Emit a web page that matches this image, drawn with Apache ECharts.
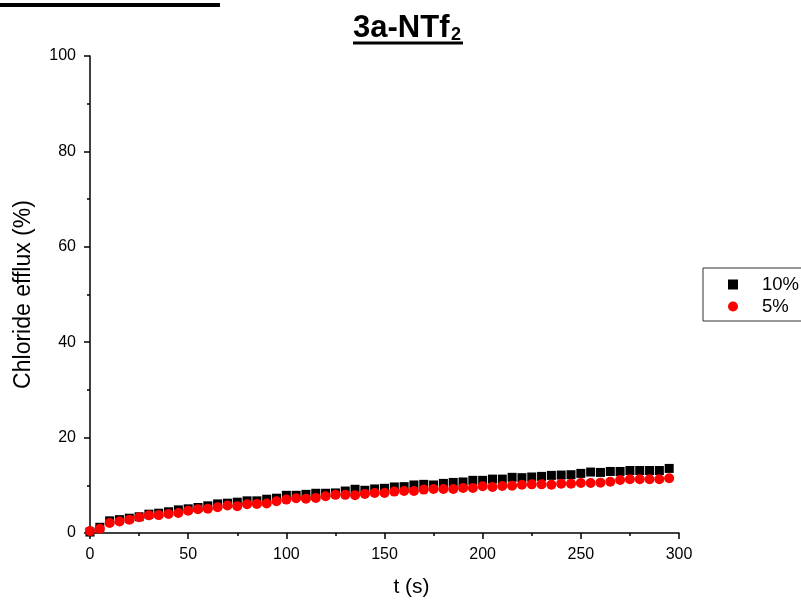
<!DOCTYPE html>
<html>
<head>
<meta charset="utf-8">
<script src="https://cdn.jsdelivr.net/npm/echarts@6/dist/echarts.min.js"></script>
<style>html,body{margin:0;padding:0;background:#fff;overflow:hidden}#c{width:801px;height:603px}</style>
</head>
<body>
<div id="c"></div>
<script>
const times = [0,5,10,15,20,25,30,35,40,45,50,55,60,65,70,75,80,85,90,95,100,105,110,115,120,125,130,135,140,145,150,155,160,165,170,175,180,185,190,195,200,205,210,215,220,225,230,235,240,245,250,255,260,265,270,275,280,285,290,295];
const efflux10 = [0.2,1.2,2.55,2.8,3.1,3.4,3.95,4.15,4.45,4.85,5.07,5.35,5.7,6.1,6.25,6.46,6.74,6.74,7.08,7.3,7.9,7.9,8.1,8.33,8.33,8.4,8.8,9.17,8.96,9.24,9.37,9.65,9.72,10.07,10.2,10.07,10.4,10.6,10.7,11.04,11.04,11.3,11.3,11.67,11.6,11.74,11.87,12.08,12.15,12.22,12.5,12.78,12.7,12.9,12.9,13.1,13.1,13.1,13.1,13.54];
const efflux5 = [0.4,0.9,2.1,2.4,2.8,3.3,3.7,3.75,4.0,4.2,4.65,5.0,5.1,5.4,5.75,5.63,6.04,6.1,6.18,6.67,7.0,7.3,7.2,7.36,7.7,8.0,8.0,7.9,8.2,8.4,8.4,8.68,8.8,8.8,9.1,9.24,9.24,9.24,9.45,9.45,9.8,9.65,9.86,9.93,10.1,10.2,10.2,10.14,10.35,10.35,10.49,10.49,10.56,10.76,11.1,11.25,11.25,11.25,11.25,11.46];
const seriesNames = ['10%', '5%'];
const xTitle = 't (s)';
const yTitle = 'Chloride efflux (%)';
const chartTitle = '3a-NTf';
const chartTitleSub = '2';

const font = 'Arial, "Liberation Sans", sans-serif';
const chart = echarts.init(document.getElementById('c'), null, {renderer: 'canvas'});
const axisCommon = {
  axisLine: {show: true, onZero: false, lineStyle: {color: '#000', width: 1.5}},
  axisTick: {show: true, inside: false, length: 6, lineStyle: {color: '#000', width: 1.5}},
  minorTick: {show: true, splitNumber: 2, length: 3, lineStyle: {color: '#000', width: 1.5}},
  splitLine: {show: false},
  axisLabel: {color: '#000', fontSize: 16, fontFamily: font, margin: 14},
  nameLocation: 'middle'
};
chart.setOption({
  animation: false,
  backgroundColor: '#fff',
  grid: {left: 90, right: 122, top: 56, bottom: 67, containLabel: false},
  xAxis: Object.assign({}, axisCommon, {
    type: 'value', min: 0, max: 300, interval: 50,
    name: xTitle, nameGap: 44,
    nameTextStyle: {color: '#000', fontSize: 21, fontFamily: font, padding: [0, 0, 0, 54]}
  }),
  yAxis: Object.assign({}, axisCommon, {
    type: 'value', min: 0, max: 100, interval: 20,
    name: yTitle, nameGap: 55,
    nameTextStyle: {color: '#000', fontSize: 23, fontFamily: font}
  }),
  legend: {
    orient: 'vertical', left: 703, top: 268,
    data: [{name: seriesNames[0], icon: 'rect'}, {name: seriesNames[1], icon: 'circle'}],
    itemWidth: 10, itemHeight: 10, itemGap: 3,
    padding: [7, 40, 5, 25],
    borderColor: '#333', borderWidth: 1,
    textStyle: {color: '#000', fontSize: 18.5, fontFamily: font, padding: [0, 0, 0, 19]}
  },
  graphic: [
    {type: 'text', x: 353, y: 28.5, style: {
      text: chartTitle, fontSize: 31, fontWeight: 'bold', fontFamily: font, fill: '#000',
      align: 'left', verticalAlign: 'middle'}},
    {type: 'text', x: 451, y: 35.5, style: {
      text: chartTitleSub, fontSize: 18, fontWeight: 'bold', fontFamily: font, fill: '#000',
      align: 'left', verticalAlign: 'middle'}},
    {type: 'rect', shape: {x: 353, y: 41.5, width: 110, height: 3}, style: {fill: '#000'}},
    {type: 'rect', shape: {x: 0, y: 3, width: 220, height: 4}, style: {fill: '#000'}}
  ],
  series: [
    {name: seriesNames[0], type: 'scatter', symbol: 'rect', symbolSize: 9,
     itemStyle: {color: '#000', opacity: 1}, data: times.map((t, i) => [t, efflux10[i]])},
    {name: seriesNames[1], type: 'scatter', symbol: 'circle', symbolSize: 10,
     itemStyle: {color: '#ff0000', opacity: 1}, data: times.map((t, i) => [t, efflux5[i]])}
  ]
});
</script>
</body>
</html>
